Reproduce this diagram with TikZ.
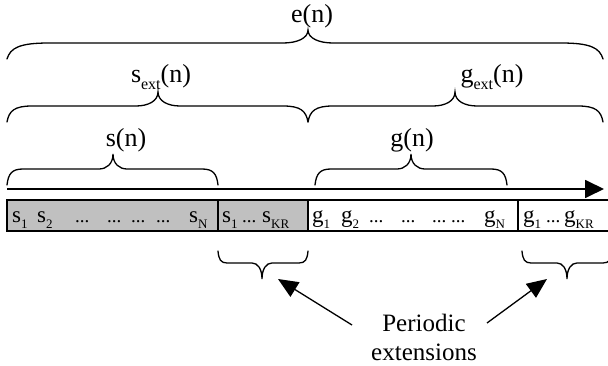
\documentclass[tikz,border=0pt]{standalone}
\usepackage{fontspec}
\setmainfont{Liberation Serif}
\usetikzlibrary{arrows.meta}
\definecolor{boxgray}{RGB}{192,192,192}
\newcommand\sbx[1]{\raisebox{-0.22em}{\fontsize{13}{13}\selectfont #1}}
\newcommand\sbl[1]{\raisebox{-0.25em}{\fontsize{16}{16}\selectfont #1}}
% x1 x2 xm y0 yf yt c1 c2
\newcommand\hbrace[8]{%
 \draw[bracepath] (#1,#4) .. controls ({#1+0.08*#7},{#5+0.3*(#4-#5)}) and ({#1+0.3*#7},#5) .. ({#1+#7},#5)
   -- ({#3-#8},#5) .. controls ({#3-0.45*#8},#5) and (#3,{#5+0.35*(#6-#5)}) .. (#3,#6)
   .. controls (#3,{#5+0.35*(#6-#5)}) and ({#3+0.45*#8},#5) .. ({#3+#8},#5)
   -- ({#2-#7},#5) .. controls ({#2-0.3*#7},#5) and ({#2-0.08*#7},{#5+0.3*(#4-#5)}) .. (#2,#4);}
\begin{document}
\begin{tikzpicture}[x=1pt,y=-1pt,
  bracepath/.style={line width=1.3pt,line cap=round},
  lbl/.style={font=\fontsize{26}{26}\selectfont,inner sep=0pt},
  cell/.style={draw,line width=1.2pt},
  txt/.style={anchor=base west,inner sep=0pt,font=\fontsize{23}{23}\selectfont},
  dots/.style={anchor=base west,inner sep=0pt,font=\fontsize{19}{19}\selectfont},
  bigarrow/.style={line width=1.3pt,-{Triangle[length=20pt,width=17pt]}}]
\useasboundingbox (0,0) rectangle (608,366);
% braces
\hbrace{7}{603}{308}{59}{43}{30}{42}{25}
\hbrace{7}{308}{158}{122}{106}{92}{25}{22}
\hbrace{308}{603}{455}{122}{106}{92}{25}{22}
\hbrace{7}{218}{113}{185}{169}{154}{16}{14}
\hbrace{315}{507}{411}{185}{169}{154}{16}{14}
\hbrace{218}{308}{262}{251}{263}{279}{9}{10}
\hbrace{522}{612}{567}{251}{263}{279}{9}{10}
% labels
\node[lbl] (en) at (312,16) {e(n)};
\node[lbl] (sext) at (161,77) {s\sbl{ext}(n)};
\node[lbl] (gext) at (492,77) {g\sbl{ext}(n)};
\node[lbl] (sn) at (126,140) {s(n)};
\node[lbl] (gn) at (412,140) {g(n)};
% time axis arrow
\coordinate (a1) at (7,189);
\coordinate (a2) at (604,189);
\draw[line width=1.8pt,-{Triangle[length=19pt,width=18pt]}] (a1) -- (a2);
% cells
\draw[cell,fill=boxgray] (7,200) rectangle (218,231);
\draw[cell,fill=boxgray] (218,200) rectangle (308,231);
\draw[cell,fill=white] (308,200) rectangle (518,231);
\draw[cell,fill=white] (518,200) rectangle (609,231);
% cell texts
\node[txt] (t1) at (12,223) {s\sbx{1}};
\node[txt] (t2) at (37,223) {s\sbx{2}};
\node[dots] (t3) at (75,223) {...};
\node[dots] (t4) at (107,223) {...};
\node[dots] (t5) at (131,223) {...};
\node[dots] (t6) at (156,223) {...};
\node[txt] (t7) at (189,223) {s\sbx{N}};
\node[txt] (u1) at (222,223) {s\sbx{1}};
\node[dots] (u2) at (242,223) {...};
\node[txt] (u3) at (262,223) {s\sbx{KR}};
\node[txt] (v1) at (312,223) {g\sbx{1}};
\node[txt] (v2) at (341,223) {g\sbx{2}};
\node[dots] (v3) at (369,223) {...};
\node[dots] (v4) at (401,223) {...};
\node[dots] (v5) at (432,223) {...};
\node[dots] (v6) at (451,223) {...};
\node[txt] (v7) at (484,223) {g\sbx{N}};
\node[txt] (w1) at (523,223) {g\sbx{1}};
\node[dots] (w2) at (546,223) {...};
\node[txt] (w3) at (564,223) {g\sbx{KR}};
% periodic extensions
\node[lbl,align=center,font=\fontsize{25}{29}\selectfont] (pe) at (424,337) {Periodic\\extensions};
\coordinate (la) at (352,325); \coordinate (lt) at (278,279);
\coordinate (ra) at (487,323); \coordinate (rt) at (547,279);
\draw[bigarrow] (la) -- (lt);
\draw[bigarrow] (ra) -- (rt);
\end{tikzpicture}
\end{document}
